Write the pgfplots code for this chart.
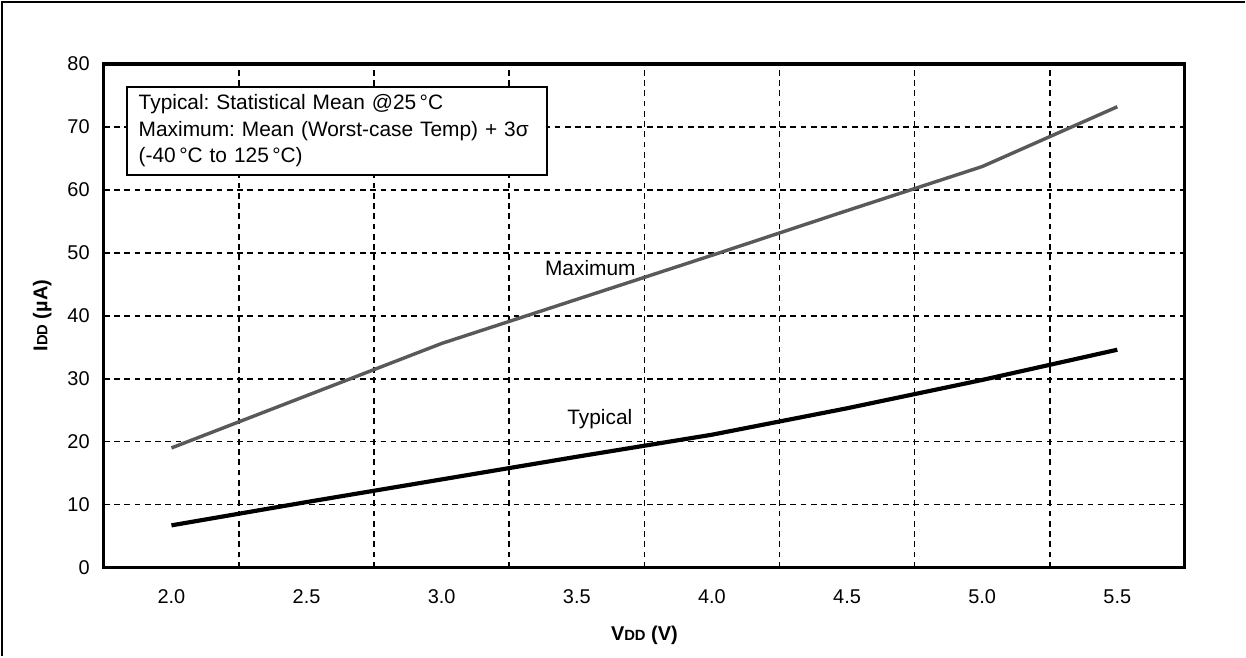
\documentclass[border=0pt]{standalone}
\usepackage{fontspec}
\setmainfont{Liberation Sans}
\usepackage{pgfplots}
\pgfplotsset{compat=1.18}
\frenchspacing

% supply current vs. VDD
\pgfplotstableread{
v    typ   max
0    6.7   19.0
1    10.4  27.3
2    14.0  35.6
3    17.6  42.6
4    21.1  49.6
5    25.3  56.7
6    29.8  63.7
7    34.6  73.2
}\idd

\begin{document}
\begin{tikzpicture}
\begin{axis}[
    scale only axis,
    width=569.7pt, height=265.4pt,
    xmin=-0.5, xmax=7.5,
    ymin=0, ymax=80,
    xtick={0,...,7},
    xticklabels={2.0,2.5,3.0,3.5,4.0,4.5,5.0,5.5},
    minor xtick={0.5,1.5,...,6.5},
    ytick={0,10,...,80},
    major tick length=0pt, minor tick length=0pt,
    xmajorgrids=false, xminorgrids=true, ymajorgrids=true,
    grid style={black, line width=0.9pt, dash pattern=on 3pt off 2.4pt},
    minor grid style={black, line width=0.9pt, dash pattern=on 3pt off 2.4pt},
    axis line style={line width=1.7pt},
    tick label style={font=\fontsize{10.5}{12}\selectfont},
    /pgf/number format/assume math mode=true,
    xticklabel style={yshift=-8pt},
    yticklabel style={xshift=-4pt},
    xlabel={\bfseries V{\fontsize{7.8}{9}\selectfont DD} (V)},
    ylabel={\bfseries I{\fontsize{7.8}{9}\selectfont DD} (µA)},
    label style={font=\fontsize{10.5}{12}\selectfont},
    xlabel style={at={(axis description cs:0.5,-0.135)}, anchor=center},
    ylabel style={at={(axis description cs:-0.057,0.5)}, anchor=center},
    clip=false,
]
\addplot[black!65, line width=1.8pt, line join=round] table[x=v, y=max] {\idd};
\addplot[black, line width=2.2pt, line join=round] table[x=v, y=typ] {\idd};

\node[font=\fontsize{11}{13}\selectfont] at (axis cs:3.1,47.6) {Maximum};
\node[font=\fontsize{11}{13}\selectfont] at (axis cs:3.17,23.5) {Typical};

\node[draw, fill=white, line width=1pt, anchor=north west,
      inner xsep=6.3pt, inner ysep=4pt, text width=209pt, align=left,
      font=\fontsize{11}{14}\selectfont]
  at (axis description cs:0.0203,0.956)
  {Typical: Statistical Mean @25\,°C\\
   Maximum: Mean (Worst-case Temp) + 3σ\\
   (-40\,°C to 125\,°C)};

% outer frame of the figure
\draw[line width=1.2pt] (axis description cs:-0.0943,-0.1766)
    -- (axis description cs:-0.0943,1.123)
    -- (axis description cs:1.0555,1.123);
\path (axis description cs:-0.0961,-0.1766) rectangle (axis description cs:1.0555,1.127);
\end{axis}
\end{tikzpicture}
\end{document}
